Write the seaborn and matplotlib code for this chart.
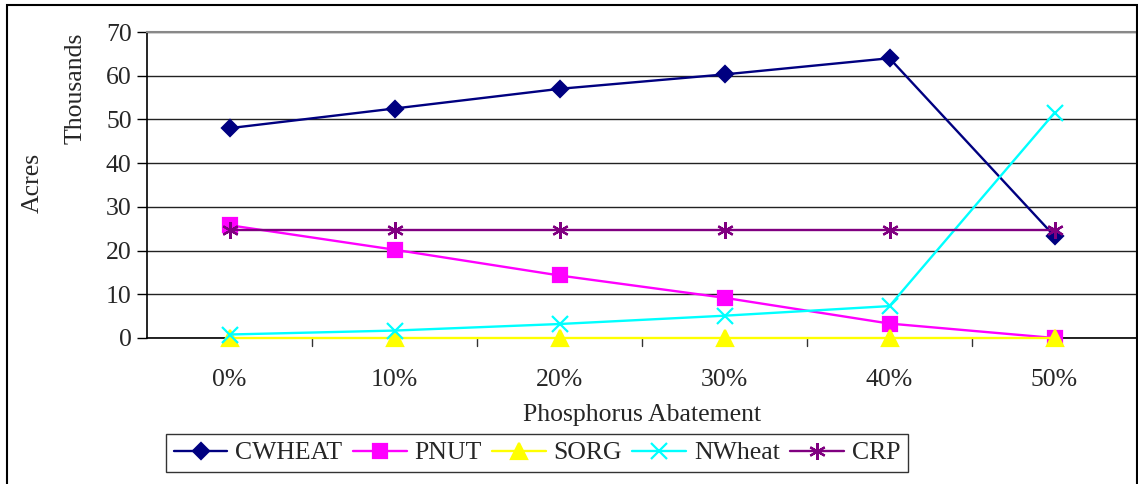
import matplotlib
matplotlib.use("Agg")
import matplotlib.pyplot as plt
import seaborn as sns
import pandas as pd
from matplotlib.patches import Rectangle

categories = ["0%", "10%", "20%", "30%", "40%", "50%"]
cwheat = [48.0, 52.5, 57.0, 60.3, 64.0, 23.3]
pnut = [25.8, 20.2, 14.3, 9.2, 3.3, 0.0]
sorg = [0.0, 0.0, 0.0, 0.0, 0.0, 0.0]
nwheat = [0.8, 1.7, 3.2, 5.1, 7.3, 51.5]
crp = [24.8, 24.8, 24.8, 24.8, 24.8, 24.8]
series_names = ["CWHEAT", "PNUT", "SORG", "NWheat", "CRP"]
yticks = [0, 10, 20, 30, 40, 50, 60, 70]

sns.set_style("white")
plt.rcParams['font.family'] = ['Liberation Serif', 'DejaVu Serif']

rows = []
for name, vals in zip(series_names, [cwheat, pnut, sorg, nwheat, crp]):
    for i, v in enumerate(vals):
        rows.append({"x": i, "val": v, "series": name})
df = pd.DataFrame(rows)

colors = {"CWHEAT": "#000080", "PNUT": "#FF00FF", "SORG": "#FFFF00",
          "NWheat": "#00FFFF", "CRP": "#800080"}
markers = {"CWHEAT": "D", "PNUT": "s", "SORG": "^", "NWheat": "x", "CRP": (6, 2, 0)}
msizes = {"CWHEAT": 8, "PNUT": 10, "SORG": 11, "NWheat": 11, "CRP": 12}

FS = 18.5

fig = plt.figure(figsize=(11.38, 4.84), dpi=100)
ax = fig.add_axes([147/1138, 1-338/484, (1137-147)/1138, (338-32)/484])

for name in series_names:
    sub = df[df.series == name]
    sns.lineplot(data=sub, x="x", y="val", ax=ax, color=colors[name],
                 marker=markers[name], markersize=msizes[name],
                 markeredgecolor=colors[name], markeredgewidth=1.6,
                 linewidth=1.7, label=name, legend=False, clip_on=False, zorder=3)

ax.set_xlim(-0.5, 5.5)
ax.set_ylim(0, 70)
ax.set_yticks(yticks)
ax.set_yticklabels([str(t) for t in yticks], fontsize=FS)
ax.set_xticks(range(len(categories)))
ax.set_xticklabels(categories, fontsize=FS)
ax.tick_params(axis='x', length=0, pad=22)
ax.tick_params(axis='y', length=7, width=1, direction='out', left=True, color='black', pad=4)
for b in [0.5, 1.5, 2.5, 3.5, 4.5]:
    ax.plot([b, b], [0, -0.025], transform=ax.get_xaxis_transform(), color='#333333',
            lw=1, clip_on=False)
ax.grid(axis='y', color='#222222', linewidth=1)
ax.set_axisbelow(True)
for s in ['top', 'right']:
    ax.spines[s].set_color('#888888')
    ax.spines[s].set_linewidth(1.5)
ax.spines['left'].set_color('black')
ax.spines['bottom'].set_color('black')
ax.spines['left'].set_linewidth(1.2)
ax.spines['bottom'].set_linewidth(1.2)

ax.set_xlabel("Phosphorus Abatement", fontsize=FS, labelpad=10)
ax.set_ylabel("")
fig.text(33/1138, 1-183/484, "Acres", rotation=90, fontsize=FS, ha='center', va='center')
fig.text(76/1138, 1-88/484, "Thousands", rotation=90, fontsize=FS, ha='center', va='center')

handles, labels = ax.get_legend_handles_labels()
leg = fig.legend(handles, labels, loc='center', bbox_to_anchor=(537/1138, 1-453/484),
                 ncol=5, fontsize=FS, frameon=True, fancybox=False, edgecolor='black',
                 handlelength=2.1, columnspacing=0.4, handletextpad=0.3,
                 borderpad=0.3, borderaxespad=0)
leg.get_frame().set_linewidth(1.0)

fig.patches.append(Rectangle((7/1138, -0.02), (1137-7)/1138, 1.02-5/484,
                             transform=fig.transFigure,
                             fill=False, edgecolor='black', linewidth=1.5))

fig.savefig("out.png", dpi=100)
